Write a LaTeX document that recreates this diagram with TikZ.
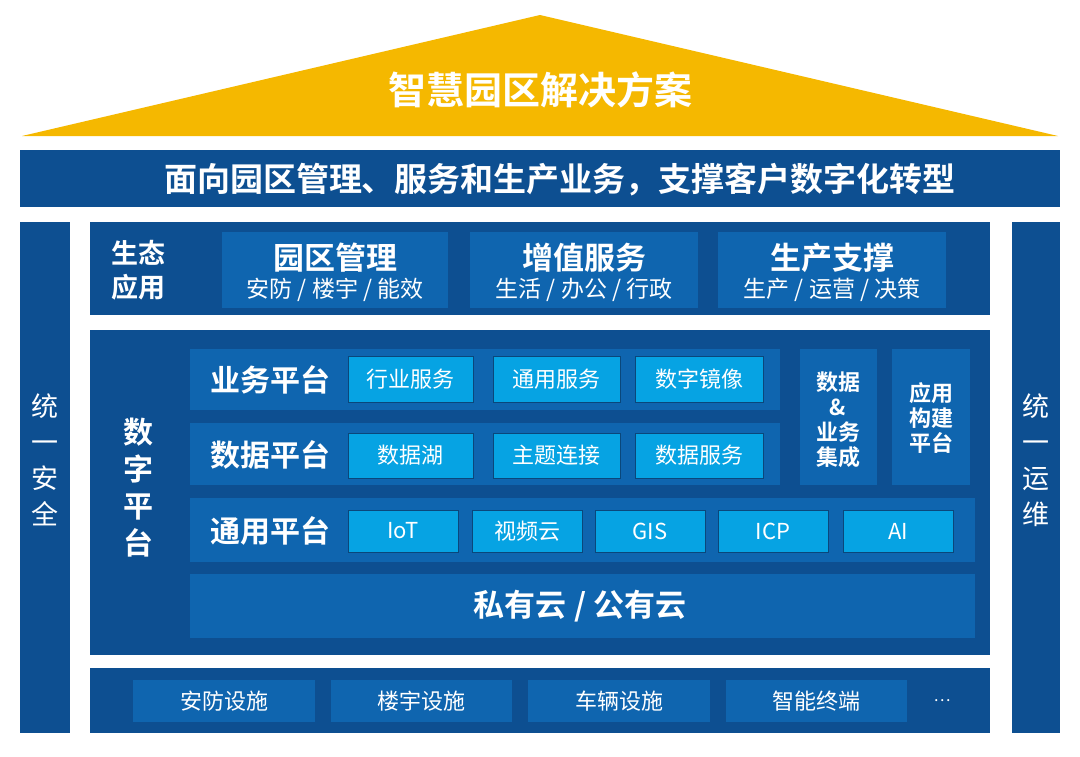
\documentclass[tikz,border=0pt]{standalone}
\usepackage{fontspec}
\setmainfont{Noto Sans CJK SC}
\newfontfamily\cjkbold{Noto Sans CJK SC Bold}
\definecolor{darkbg}{HTML}{0D4F91}
\definecolor{rowblue}{HTML}{0F65AF}
\definecolor{lightbox}{HTML}{06A3E3}
\definecolor{roof}{HTML}{F5B800}
\tikzset{
  panel/.style={fill=darkbg, draw=none},
  litebox/.style={fill=lightbox, draw=rowblue!70!black, line width=1pt},
  wtext/.style={text=white, font=#1},
}
\begin{document}
\begin{tikzpicture}[x=1pt,y=-1pt]
\useasboundingbox (0,0) rectangle (1080,756);
\fill[fill=white] (0,0) rectangle (1080,756);

\fill[roof] (22,136) -- (540,15) -- (1058,136) -- cycle; %roof
\node[wtext={\cjkbold\fontsize{38}{38}\selectfont}] (title) at (540,90) {智慧园区解决方案};

\fill[panel] (20,150) rectangle (1060,207); %banner
\node[wtext={\cjkbold\fontsize{33}{33}\selectfont}] (banner) at (560,180) {面向园区管理、服务和生产业务，支撑客户数字化转型};

\fill[panel] (20,222) rectangle (70,733); %pillars
\fill[panel] (1012,222) rectangle (1060,733);
\node[wtext={\fontsize{27}{36}\selectfont}, align=center] (secure) at (45,460) {统\\一\\安\\全};
\node[wtext={\fontsize{27}{36}\selectfont}, align=center] (ops) at (1036,460) {统\\一\\运\\维};

\fill[panel] (90,222) rectangle (990,315); %eco apps
\node[wtext={\cjkbold\fontsize{27}{34}\selectfont}, align=center] (eco) at (138,270) {生态\\应用};
\fill[rowblue] (222,232) rectangle (448,308);
\node[wtext={\cjkbold\fontsize{31}{31}\selectfont}] (park) at (335,258) {园区管理};
\node[wtext={\fontsize{23}{23}\selectfont}] (parksub) at (335,290) {安防 / 楼宇 / 能效};
\fill[rowblue] (470,232) rectangle (698,308);
\node[wtext={\cjkbold\fontsize{31}{31}\selectfont}] (value) at (584,258) {增值服务};
\node[wtext={\fontsize{23}{23}\selectfont}] (valuesub) at (584,290) {生活 / 办公 / 行政};
\fill[rowblue] (718,232) rectangle (946,308);
\node[wtext={\cjkbold\fontsize{31}{31}\selectfont}] (prod) at (832,258) {生产支撑};
\node[wtext={\fontsize{23}{23}\selectfont}] (prodsub) at (832,290) {生产 / 运营 / 决策};

\fill[panel] (90,330) rectangle (990,655); %digital platform
\node[wtext={\cjkbold\fontsize{30}{37}\selectfont}, align=center] (digital) at (138,488) {数\\字\\平\\台};

\fill[rowblue] (190,349) rectangle (780,410); %business row
\node[wtext={\cjkbold\fontsize{30}{30}\selectfont}] (biz) at (270,380) {业务平台};
\draw[litebox] (348,356) rectangle node[wtext={\fontsize{22}{22}\selectfont}] (b1) {行业服务} (473,402);
\draw[litebox] (493,356) rectangle node[wtext={\fontsize{22}{22}\selectfont}] (b2) {通用服务} (620,402);
\draw[litebox] (635,356) rectangle node[wtext={\fontsize{22}{22}\selectfont}] (b3) {数字镜像} (763,402);

\fill[rowblue] (190,423) rectangle (780,485); %data row
\node[wtext={\cjkbold\fontsize{30}{30}\selectfont}] (data) at (270,455) {数据平台};
\draw[litebox] (348,433) rectangle node[wtext={\fontsize{22}{22}\selectfont}] (d1) {数据湖} (473,478);
\draw[litebox] (493,433) rectangle node[wtext={\fontsize{22}{22}\selectfont}] (d2) {主题连接} (620,478);
\draw[litebox] (635,433) rectangle node[wtext={\fontsize{22}{22}\selectfont}] (d3) {数据服务} (763,478);

\fill[rowblue] (800,349) rectangle (877,485); %side columns
\node[wtext={\cjkbold\fontsize{22}{25}\selectfont}, align=center] (integ) at (838,420) {数据\\\&\\业务\\集成};
\fill[rowblue] (892,349) rectangle (970,485);
\node[wtext={\cjkbold\fontsize{22}{25}\selectfont}, align=center] (build) at (931,418) {应用\\构建\\平台};

\fill[rowblue] (190,498) rectangle (975,562); %common row
\node[wtext={\cjkbold\fontsize{30}{30}\selectfont}] (common) at (270,531) {通用平台};
\draw[litebox] (348,510) rectangle node[wtext={\fontsize{22}{22}\selectfont}] (c1) {IoT} (458,552);
\draw[litebox] (472,510) rectangle node[wtext={\fontsize{22}{22}\selectfont}] (c2) {视频云} (582,552);
\draw[litebox] (595,510) rectangle node[wtext={\fontsize{22}{22}\selectfont}] (c3) {GIS} (705,552);
\draw[litebox] (718,510) rectangle node[wtext={\fontsize{22}{22}\selectfont}] (c4) {ICP} (828,552);
\draw[litebox] (843,510) rectangle node[wtext={\fontsize{22}{22}\selectfont}] (c5) {AI} (953,552);

\fill[rowblue] (190,574) rectangle (975,638); %cloud
\node[wtext={\cjkbold\fontsize{31}{31}\selectfont}] (cloud) at (580,606) {私有云 / 公有云};

\fill[panel] (90,668) rectangle (990,733); %facilities
\fill[rowblue] (133,680) rectangle node[wtext={\fontsize{22}{22}\selectfont}] (f1) {安防设施} (315,722);
\fill[rowblue] (331,680) rectangle node[wtext={\fontsize{22}{22}\selectfont}] (f2) {楼宇设施} (512,722);
\fill[rowblue] (528,680) rectangle node[wtext={\fontsize{22}{22}\selectfont}] (f3) {车辆设施} (710,722);
\fill[rowblue] (726,680) rectangle node[wtext={\fontsize{22}{22}\selectfont}] (f4) {智能终端} (907,722);
\node[wtext={\fontsize{16}{16}\selectfont}] (more) at (942,701) {…};
\end{tikzpicture}
\end{document}
